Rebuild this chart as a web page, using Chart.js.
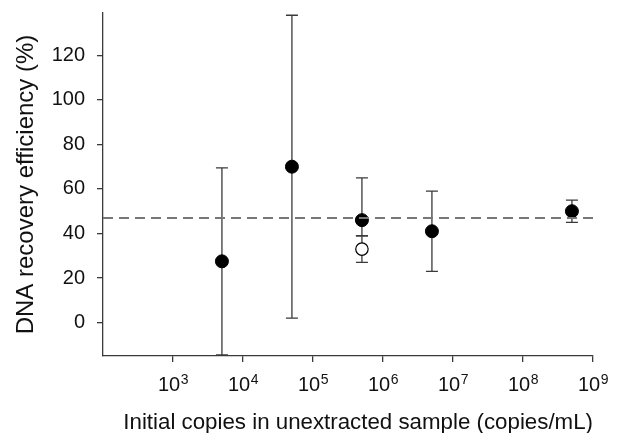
<!DOCTYPE html>
<html>
<head>
<meta charset="utf-8">
<script src="https://cdn.jsdelivr.net/npm/chart.js@4"></script>
<style>
  body { margin: 0; background: #fff; }
</style>
</head>
<body>
<canvas id="grafico" width="619" height="433"></canvas>
<script>
const grafico = document.querySelector("#grafico")

// dados
const copias = [5e3, 5e4, 5e5, 5e6, 5e8]
const eficiencia = [27.5, 70, 46, 41, 50]
const erroMin = [-14.5, 2, 39, 23, 45]
const erroMax = [69.5, 138, 65, 59, 55]

const copiasAbertos = [5e5]
const eficienciaAbertos = [33]
const erroMinAbertos = [27]
const erroMaxAbertos = [39]

const linhaMedia = 47
const ticksX = [1e3, 1e4, 1e5, 1e6, 1e7, 1e8, 1e9]
const expoentesX = ["3", "4", "5", "6", "7", "8", "9"]
const ticksY = [0, 20, 40, 60, 80, 100, 120]

const corTexto = '#111'
const corEixo = '#3a3a3a'
const fonte = 'Liberation Sans, Arial, sans-serif'

// barras de erro desenhadas por baixo dos pontos
const barrasErro = {
    id: 'barrasErro',
    beforeDatasetsDraw(chart) {
        const ctx = chart.ctx
        const x = chart.scales.x
        const y = chart.scales.y
        const desenhar = function (xs, mins, maxs) {
            xs.forEach(function (v, i) {
                const px = x.getPixelForValue(v)
                const top = y.getPixelForValue(maxs[i])
                const bot = y.getPixelForValue(mins[i])
                ctx.beginPath()
                ctx.moveTo(px, top); ctx.lineTo(px, bot)
                ctx.moveTo(px - 6, top); ctx.lineTo(px + 6, top)
                ctx.moveTo(px - 6, bot); ctx.lineTo(px + 6, bot)
                ctx.stroke()
            })
        }
        ctx.save()
        ctx.strokeStyle = corEixo
        ctx.lineWidth = 1.3
        desenhar(copias, erroMin, erroMax)
        desenhar(copiasAbertos, erroMinAbertos, erroMaxAbertos)
        ctx.restore()
    }
}

// rotulos 10^n com expoente elevado
const rotulosPotencia = {
    id: 'rotulosPotencia',
    afterDraw(chart) {
        const ctx = chart.ctx
        const x = chart.scales.x
        const base = x.top + 35
        ctx.save()
        ctx.fillStyle = corTexto
        ctx.textBaseline = 'alphabetic'
        ctx.textAlign = 'left'
        ticksX.forEach(function (v, i) {
            const px = x.getPixelForValue(v)
            ctx.font = '20px ' + fonte
            const w1 = ctx.measureText('10').width
            ctx.font = '14px ' + fonte
            const w2 = ctx.measureText(expoentesX[i]).width
            const inicio = px - (w1 + w2) / 2
            ctx.font = '20px ' + fonte
            ctx.fillText('10', inicio, base)
            ctx.font = '14px ' + fonte
            ctx.fillText(expoentesX[i], inicio + w1 + 0.5, base - 7)
        })
        ctx.restore()
    }
}

new Chart(grafico, {
    type: 'scatter',
    data: {
        datasets: [{
            type: 'line',
            data: [{ x: 1e2, y: linhaMedia }, { x: 1e9, y: linhaMedia }],
            borderColor: '#777',
            borderWidth: 2,
            borderDash: [10, 6],
            pointRadius: 0
        }, {
            data: copias.map((c, i) => ({ x: c, y: eficiencia[i] })),
            backgroundColor: '#000',
            borderColor: '#000',
            pointRadius: 6.5,
            borderWidth: 1
        }, {
            data: copiasAbertos.map((c, i) => ({ x: c, y: eficienciaAbertos[i] })),
            backgroundColor: '#fff',
            borderColor: '#000',
            pointRadius: 6.2,
            borderWidth: 1.2
        }]
    },
    options: {
        responsive: false,
        animation: false,
        layout: { padding: { top: 13, right: 26, left: 0, bottom: 0 } },
        plugins: { legend: { display: false }, tooltip: { enabled: false } },
        scales: {
            x: {
                type: 'logarithmic',
                min: 1e2,
                max: 1e9,
                afterBuildTicks: (eixo) => { eixo.ticks = ticksX.map(v => ({ value: v })) },
                afterFit: (eixo) => {
                    eixo.height = 77
                    eixo.paddingLeft = 0; eixo.paddingRight = 0
                },
                ticks: { display: false },
                grid: { drawOnChartArea: false, drawTicks: true, tickLength: 6, color: corEixo, lineWidth: 1.3 },
                border: { display: true, color: corEixo, width: 1.3 },
                title: {
                    display: true,
                    align: 'end',
                    text: 'Initial copies in unextracted sample (copies/mL)',
                    color: corTexto,
                    font: { family: fonte, size: 22.3 },
                    padding: { top: 0, bottom: -3 }
                }
            },
            y: {
                min: -15,
                max: 139,
                afterBuildTicks: (eixo) => { eixo.ticks = ticksY.map(v => ({ value: v })) },
                afterFit: (eixo) => {
                    eixo.width = 103
                    eixo.paddingTop = 0; eixo.paddingBottom = 0
                },
                ticks: {
                    color: corTexto,
                    font: { family: fonte, size: 20 },
                    padding: 12
                },
                grid: { drawOnChartArea: false, drawTicks: true, tickLength: 6, color: corEixo, lineWidth: 1.3 },
                border: { display: true, color: corEixo, width: 1.3 },
                title: {
                    display: true,
                    text: 'DNA recovery efficiency (%)',
                    color: corTexto,
                    font: { family: fonte, size: 24 },
                    padding: { top: 12, bottom: 0 }
                }
            }
        }
    },
    plugins: [barrasErro, rotulosPotencia]
});
</script>
</body>
</html>
